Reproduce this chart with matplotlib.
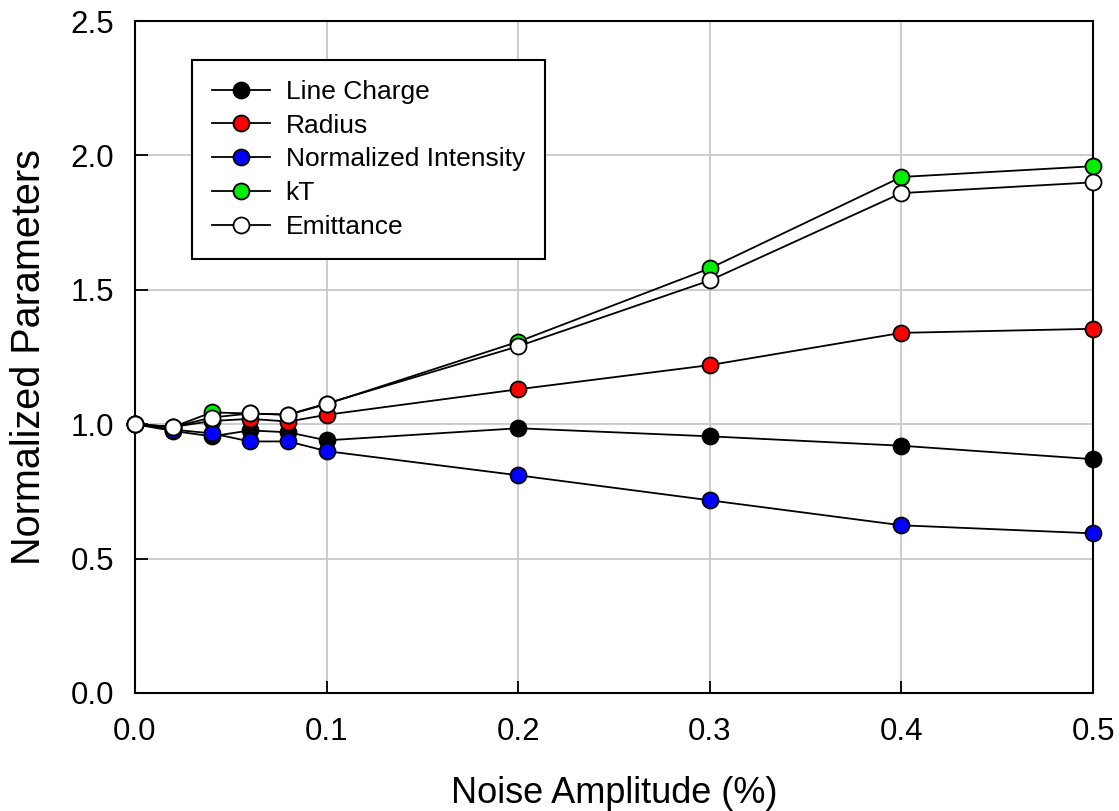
import matplotlib.pyplot as plt

plt.rcParams['font.family'] = ['Liberation Sans', 'DejaVu Sans']

noise = [0.0, 0.02, 0.04, 0.06, 0.08, 0.1, 0.2, 0.3, 0.4, 0.5]
line_charge = [1.0, 0.975, 0.955, 0.977, 0.97, 0.94, 0.985, 0.955, 0.92, 0.87]
radius = [1.0, 0.99, 1.012, 1.02, 1.01, 1.035, 1.13, 1.22, 1.34, 1.355]
intensity = [1.0, 0.98, 0.966, 0.936, 0.936, 0.90, 0.81, 0.717, 0.624, 0.594]
kT = [1.0, 0.99, 1.044, 1.04, 1.035, 1.075, 1.307, 1.58, 1.92, 1.96]
emittance = [1.0, 0.99, 1.025, 1.04, 1.036, 1.077, 1.29, 1.535, 1.86, 1.90]

series = [
    ("Line Charge", line_charge, "black"),
    ("Radius", radius, "red"),
    ("Normalized Intensity", intensity, "blue"),
    ("kT", kT, "#00ee00"),
    ("Emittance", emittance, "white"),
]

fig = plt.figure(figsize=(11.19, 8.11), dpi=100)
ax = fig.add_axes([0.1206, 0.1455, 0.8562, 0.8285])

for name, vals, col in series:
    ax.plot(noise, vals, color="black", lw=1.3, marker="o", markersize=11.5,
            markerfacecolor=col, markeredgecolor="black", markeredgewidth=1.3,
            label=name, clip_on=False, zorder=3)

ax.set_xlim(0, 0.5)
ax.set_ylim(0, 2.5)
ax.set_xticks([0.0, 0.1, 0.2, 0.3, 0.4, 0.5])
ax.set_yticks([0.0, 0.5, 1.0, 1.5, 2.0, 2.5])
ax.set_xticklabels(["0.0", "0.1", "0.2", "0.3", "0.4", "0.5"])
ax.set_yticklabels(["0.0", "0.5", "1.0", "1.5", "2.0", "2.5"])
ax.grid(True, color="#c8c8c8", lw=1.3, zorder=0)
ax.set_axisbelow(True)
ax.tick_params(direction="in", length=9, width=1.3, labelsize=22.5)
ax.tick_params(axis="x", pad=17)
ax.tick_params(axis="y", pad=15)
for s in ax.spines.values():
    s.set_linewidth(1.5)

ax.set_xlabel("Noise Amplitude (%)", fontsize=26, labelpad=21)
ax.set_ylabel("Normalized Parameters", fontsize=28.5, labelpad=16)

leg = ax.legend(loc="upper left", bbox_to_anchor=(0.0595, 0.942), fontsize=19,
                frameon=True, fancybox=False, edgecolor="black", framealpha=1,
                handlelength=2.2, markerscale=1.0, borderpad=0.75,
                labelspacing=0.37, handletextpad=0.6, borderaxespad=0)
leg.get_frame().set_linewidth(1.5)

fig.savefig("out.png", dpi=100)
